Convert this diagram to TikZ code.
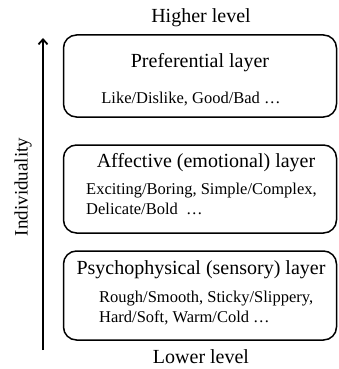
\documentclass[tikz,border=0pt]{standalone}
\usepackage{fontspec}
\setmainfont{Liberation Serif}
\usetikzlibrary{arrows.meta}
\begin{document}
\begin{tikzpicture}[x=1pt,y=-1pt,
    layerbox/.style={draw,line width=1.5pt,rounded corners=13pt,minimum width=273pt,minimum height=#1,inner sep=0pt},
    layertitle/.style={font=\fontsize{20}{24}\selectfont,inner sep=0pt},
    layeritems/.style={font=\fontsize{16.5}{20}\selectfont,align=left,inner sep=0pt},
    levellabel/.style={font=\fontsize{20}{24}\selectfont,inner sep=0pt}]
  \useasboundingbox (0,0) rectangle (339,369);
  \node[layerbox=82pt] (pref) at (200,76) {};
  \node[layerbox=88pt] (affe) at (200,189) {};
  \node[layerbox=89pt] (psyc) at (200,295.5) {};
  \node[layertitle] (preft) at (200,63) {Preferential layer};
  \node[layeritems] (prefi) at (191,99) {Like/Dislike, Good/Bad \dots};
  \node[layertitle] (affet) at (206,163) {Affective (emotional) layer};
  \node[layeritems,anchor=west] (affei) at (86,199) {Exciting/Boring, Simple/Complex,\\Delicate/Bold \ \dots};
  \node[layertitle] (psyct) at (201,270) {Psychophysical (sensory) layer};
  \node[layeritems,anchor=west] (psyci) at (99,308) {Rough/Smooth, Sticky/Slippery,\\Hard/Soft, Warm/Cold \dots};
  \node[levellabel] (high) at (201,18) {Higher level};
  \node[levellabel] (low) at (201,357) {Lower level};
  \coordinate (abot) at (43,350);
  \coordinate (atop) at (43,38);
  \draw[line width=1.8pt,-{Straight Barb[length=5pt,width=9pt]}] (abot) -- (atop);
  \node[levellabel,font=\fontsize{19}{24}\selectfont,rotate=90] (indiv) at (23,187) {Individuality};
\end{tikzpicture}
\end{document}
